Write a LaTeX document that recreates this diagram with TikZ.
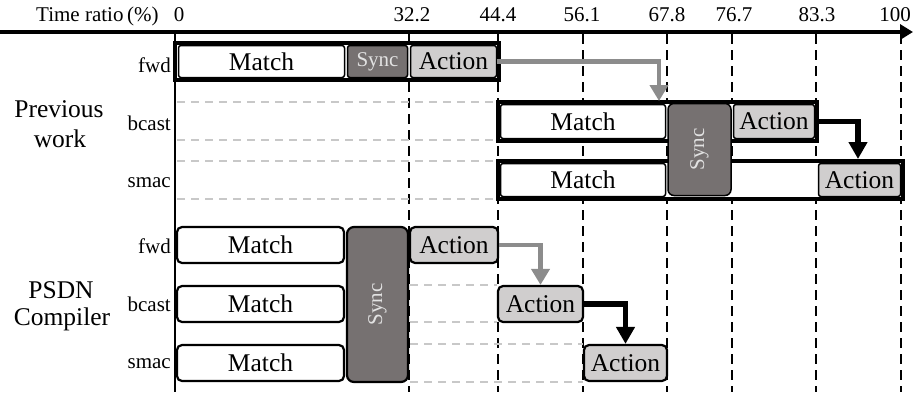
\documentclass[tikz,border=0pt]{standalone}
\usepackage{fontspec}
\setmainfont{Liberation Serif}
\usetikzlibrary{arrows.meta}
\definecolor{actfill}{HTML}{D0CECE}
\definecolor{syncfill}{HTML}{767171}
\definecolor{synctext}{HTML}{E2E2E2}
\definecolor{gridgray}{HTML}{C8C8C8}
\definecolor{arrowgray}{HTML}{8C8C8C}
\begin{document}
\begin{tikzpicture}[x=1pt,y=-1pt,
  big/.style={font=\fontsize{25.5}{30}\selectfont},
  small/.style={font=\fontsize{21}{25}\selectfont},
  sz/.style 2 args={minimum width=#1pt, minimum height=#2pt},
  box/.style={draw=black, line width=1.5pt, rounded corners=2.5pt, inner sep=0pt, big},
  rbox/.style={draw=black, line width=2.2pt, rounded corners=5pt, inner sep=0pt, big},
  matchbox/.style={box, fill=white},
  actbox/.style={box, fill=actfill},
  syncbox/.style={box, fill=syncfill, text=synctext, font=\fontsize{21}{25}\selectfont},
  rmatch/.style={rbox, fill=white},
  ract/.style={rbox, fill=actfill},
  rsync/.style={rbox, rounded corners=7pt, fill=syncfill, text=synctext, font=\fontsize{21}{25}\selectfont},
  frame/.style={draw=black, line width=4pt, inner sep=0pt, fill=white},
  rowlab/.style={small, anchor=base east, inner sep=0pt},
  grouplab/.style={big, anchor=base, inner sep=0pt},
  ticklab/.style={small, anchor=base, inner sep=0pt},
  vgrid/.style={line width=2.2pt, dash pattern=on 10pt off 6pt},
  hgrid/.style={gridgray, line width=1.8pt, dash pattern=on 8pt off 6pt},
  garrow/.style={draw=arrowgray, line width=4.5pt, -{Triangle[length=16pt,width=18pt]}},
  barrow/.style={draw=black, line width=5.5pt, -{Triangle[length=17pt,width=18pt]}}
]
\fill[white] (0,0) rectangle (917,392);
\useasboundingbox (0,0) rectangle (917,392);

% time axis
\draw[line width=3.2pt, -{Triangle[length=13pt,width=15pt]}] (0,32) -- (913,32);
\node[small, anchor=base west, inner sep=0pt] (axislab) at (36,21) {Time ratio\,(\%)};

% vertical guide lines with their tick labels
\draw[line width=2.2pt] (175,33) -- (175,392);
\node[ticklab] (t0) at (179,21) {0};
\foreach \x/\lx/\t in {409/412/32.2, 498/498/44.4, 583/582/56.1, 667/667/67.8,
                       732/734/76.7, 816/817/83.3, 901/895/100}{
  \draw[vgrid] (\x,34) -- (\x,392);
  \node[ticklab] at (\lx,21) {\t};
}

% light row guides
\foreach \y in {102,140,161,199}{ \draw[hgrid] (177,\y) -- (497,\y); }
\foreach \y in {285,322}{ \draw[hgrid] (410,\y) -- (497,\y); }
\foreach \y in {344,382}{ \draw[hgrid] (410,\y) -- (583,\y); }

% group and row labels
\node[grouplab] (gprev1) at (59,117) {Previous};
\node[grouplab] (gprev2) at (60,147) {work};
\node[grouplab] (gpsdn1) at (61,298) {PSDN};
\node[grouplab] (gpsdn2) at (62,325) {Compiler};

\node[rowlab] (lf1) at (171,72) {fwd};
\node[rowlab] (lb1) at (171,130) {bcast};
\node[rowlab] (ls1) at (171,187) {smac};
\node[rowlab] (lf2) at (171,253) {fwd};
\node[rowlab] (lb2) at (171,311) {bcast};
\node[rowlab] (ls2) at (171,368) {smac};

% previous work: serial stages per table
\node[frame, sz={324}{37}] (fr1) at (337,61.5) {};
\node[frame, sz={319}{39}] (fr2) at (657.5,121.5) {};
\node[frame, sz={405}{38}] (fr3) at (700.5,180) {};

\node[matchbox, sz={166}{32}] (pm1) at (261.5,61.5) {Match};
\node[syncbox, sz={60}{32}] (ps1) at (377.5,61.5) {Sync};
\node[actbox, sz={86}{32}] (pa1) at (453.5,61.5) {Action};

\node[matchbox, sz={165}{34}] (pm2) at (583,121.5) {Match};
\node[actbox, sz={81}{34}] (pa2) at (774,121.5) {Action};
\node[matchbox, sz={165}{33}] (pm3) at (583,180) {Match};
\node[actbox, sz={82}{33}] (pa3) at (859.5,180) {Action};
\node[syncbox, rounded corners=6pt, sz={63}{92}] (ps2) at (699.5,149.5) {\rotatebox{90}{Sync}};

\coordinate (pt1) at (659,101);
\coordinate (pt2) at (858,159);
\draw[garrow] (pa1.east) -| (pt1);
\draw[barrow] (fr2.east) -| (pt2);

% PSDN compiler: parallel match, shared sync
\node[rmatch, sz={167}{36}] (qm1) at (260.5,245) {Match};
\node[rmatch, sz={167}{36}] (qm2) at (260.5,304) {Match};
\node[rmatch, sz={167}{36}] (qm3) at (260.5,363) {Match};
\node[rsync, sz={61}{155}] (qs) at (377.5,304.5) {\rotatebox{90}{Sync}};
\node[ract, sz={88}{36}] (qa1) at (454,245) {Action};
\node[ract, sz={85}{36}] (qa2) at (540.5,304) {Action};
\node[ract, sz={83}{36}] (qa3) at (625.5,363) {Action};

\draw[garrow] (qa1.east) -| (qa2.north);
\draw[barrow] (qa2.east) -| (qa3.north);
\end{tikzpicture}
\end{document}
